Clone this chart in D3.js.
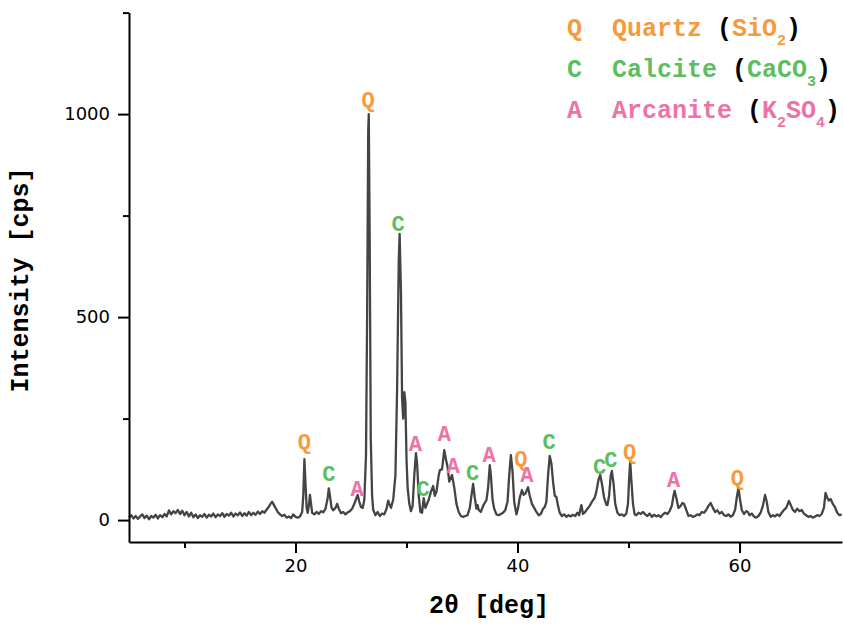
<!DOCTYPE html>
<html>
<head>
<meta charset="utf-8">
<script src="https://cdn.jsdelivr.net/npm/d3@7"></script>
<style>
  body { margin: 0; background: #fff; }
  text { white-space: pre; }
</style>
</head>
<body>
<div id="chart"></div>
<script>
// XRD pattern: [2theta, counts]
const pattern = [
  [5.0,6],[5.2,12],[5.4,4],[5.6,10],[5.8,3],[6.0,9],[6.2,14],[6.4,5],[6.6,11],[6.8,2],
  [7.0,10],[7.2,6],[7.4,13],[7.6,4],[7.8,12],[8.0,7],[8.2,15],[8.4,9],[8.6,24],[8.8,14],
  [9.0,22],[9.2,17],[9.4,25],[9.6,15],[9.8,23],[10.0,12],[10.2,20],[10.4,9],[10.6,18],[10.8,7],
  [11.0,14],[11.2,5],[11.4,12],[11.6,8],[11.8,15],[12.0,6],[12.2,13],[12.4,9],[12.6,16],[12.8,7],
  [13.0,14],[13.2,10],[13.4,17],[13.6,8],[13.8,15],[14.0,11],[14.2,18],[14.4,9],[14.6,16],[14.8,12],
  [15.0,19],[15.2,10],[15.4,17],[15.6,11],[15.8,20],[16.0,12],[16.2,18],[16.4,13],[16.6,21],[16.8,15],
  [17.0,22],[17.2,18],[17.4,26],[17.6,33],[17.8,42],[17.9,45],[18.0,40],[18.2,30],[18.4,20],[18.6,14],
  [18.8,10],[19.0,13],[19.2,6],[19.4,9],[19.6,5],[19.8,14],[20.0,8],[20.2,6],[20.4,9],[20.6,20],
  [20.7,60],[20.8,150],[20.9,90],[21.0,30],[21.1,18],[21.2,35],[21.3,62],[21.4,40],[21.5,18],[21.7,14],
  [21.9,20],[22.1,15],[22.3,22],[22.5,19],[22.7,28],[22.9,55],[23.0,78],[23.1,60],[23.25,30],[23.4,24],
  [23.6,30],[23.75,40],[23.9,28],[24.1,17],[24.3,20],[24.5,14],[24.7,19],[24.9,22],[25.1,28],[25.3,40],
  [25.5,55],[25.6,62],[25.75,45],[25.9,32],[26.05,30],[26.2,50],[26.35,160],[26.45,500],[26.55,960],[26.6,1000],
  [26.68,700],[26.78,200],[26.9,60],[27.0,25],[27.2,12],[27.4,20],[27.6,10],[27.8,16],[28.0,14],[28.2,28],
  [28.35,48],[28.45,40],[28.6,30],[28.8,50],[29.0,110],[29.15,320],[29.3,640],[29.38,705],[29.5,560],[29.6,300],
  [29.7,250],[29.8,315],[29.9,290],[30.0,150],[30.1,80],[30.25,40],[30.4,22],[30.55,35],[30.7,110],[30.85,165],
  [30.95,140],[31.1,60],[31.25,20],[31.4,18],[31.55,54],[31.7,30],[31.85,40],[32.0,50],[32.2,70],[32.4,84],
  [32.55,60],[32.7,70],[32.9,110],[33.0,123],[33.2,125],[33.4,172],[33.55,150],[33.7,130],[33.85,95],[34.0,105],
  [34.1,111],[34.3,80],[34.5,40],[34.7,20],[34.9,10],[35.1,8],[35.3,10],[35.5,12],[35.7,30],[35.85,60],
  [36.0,89],[36.15,55],[36.3,28],[36.4,37],[36.5,25],[36.7,20],[36.9,35],[37.1,45],[37.2,49],[37.35,80],
  [37.5,135],[37.6,110],[37.75,50],[37.9,28],[38.1,14],[38.3,12],[38.5,15],[38.7,18],[38.9,25],[39.1,45],
  [39.25,110],[39.4,160],[39.55,120],[39.7,45],[39.9,14],[40.05,30],[40.2,55],[40.4,74],[40.55,62],[40.7,65],
  [40.95,81],[41.1,60],[41.3,40],[41.5,30],[41.7,20],[41.9,12],[42.1,15],[42.3,28],[42.45,32],[42.6,45],
  [42.75,110],[42.9,158],[43.05,140],[43.2,95],[43.35,60],[43.5,57],[43.65,35],[43.8,18],[44.0,10],[44.2,14],
  [44.4,8],[44.6,12],[44.8,9],[45.0,13],[45.2,10],[45.4,18],[45.55,12],[45.75,37],[45.9,15],[46.1,20],
  [46.3,28],[46.5,35],[46.7,45],[46.8,49],[46.95,55],[47.1,70],[47.3,100],[47.45,111],[47.6,90],[47.8,55],
  [48.0,38],[48.1,37],[48.25,60],[48.4,110],[48.5,121],[48.65,90],[48.8,40],[49.0,18],[49.2,12],[49.4,14],
  [49.6,10],[49.8,16],[49.95,40],[50.05,100],[50.15,145],[50.25,100],[50.4,40],[50.55,14],[50.7,12],[50.9,18],
  [51.1,15],[51.3,20],[51.5,14],[51.7,10],[51.9,16],[52.1,8],[52.3,13],[52.5,9],[52.7,12],[52.9,7],
  [53.1,14],[53.3,18],[53.5,15],[53.7,22],[53.9,35],[54.05,60],[54.15,72],[54.3,55],[54.5,30],[54.7,35],
  [54.85,42],[55.0,40],[55.2,25],[55.4,10],[55.6,12],[55.8,8],[56.0,10],[56.2,14],[56.4,12],[56.6,20],
  [56.8,18],[57.0,25],[57.2,35],[57.4,42],[57.6,30],[57.8,20],[58.0,24],[58.2,16],[58.4,20],[58.6,12],
  [58.8,10],[59.0,14],[59.2,8],[59.4,12],[59.6,25],[59.75,55],[59.9,79],[60.05,50],[60.2,25],[60.4,15],
  [60.6,22],[60.75,20],[60.9,12],[61.1,16],[61.3,9],[61.5,6],[61.7,10],[61.9,18],[62.1,35],[62.3,62],
  [62.45,45],[62.6,20],[62.8,8],[63.0,12],[63.2,9],[63.4,14],[63.6,10],[63.8,18],[64.0,25],[64.2,30],
  [64.45,47],[64.6,38],[64.8,25],[65.0,20],[65.2,28],[65.4,22],[65.6,25],[65.8,16],[66.0,12],[66.2,8],
  [66.4,10],[66.6,6],[66.8,9],[67.0,12],[67.2,10],[67.4,15],[67.6,30],[67.75,67],[67.9,55],[68.05,48],
  [68.2,52],[68.4,40],[68.6,32],[68.8,18],[69.0,12],[69.2,14]
];

// peak markers
const peakAngle = [20.8, 23.0, 25.55, 26.55, 29.25, 30.8, 31.5, 33.4, 34.2, 35.95,
                   37.45, 40.3, 40.85, 42.85, 47.4, 48.4, 50.1, 54.05, 59.8];
const peakPhase = ["Q","C","A","Q","C","A","C","A","A","C",
                   "A","Q","A","C","C","C","Q","A","Q"];
const peakLevel = [195, 116, 79, 1037, 731, 190, 79, 214, 135, 118,
                   163, 153, 113, 195, 133, 150, 170, 101, 106];

// legend
const phaseKeys = ["Q", "C", "A"];
const phaseNames = ["Quartz", "Calcite", "Arcanite"];
const phaseFormula = [
  [["Si", false], ["O", false], ["2", true]],
  [["CaCO", false], ["3", true]],
  [["K", false], ["2", true], ["SO", false], ["4", true]]
];
const phaseColors = {Q: "#F59B3E", C: "#5DBD62", A: "#EE72A8"};

const xTicksMajor = [20, 40, 60];
const xTicksMinor = [10, 30, 50];
const yTicksMajor = [0, 500, 1000];
const yTicksMinor = [250, 750, 1250];

const width = 843, height = 625;
const monoFont = "'Liberation Mono', 'DejaVu Sans Mono', monospace";

const svg = d3.select("#chart").append("svg")
  .attr("width", width)
  .attr("height", height)
  .style("background", "#fff");

const x = d3.scaleLinear().domain([5, 69.23]).range([129, 842]);
const y = d3.scaleLinear().domain([-54, 1250]).range([542, 12.6]);

// the pattern line
const line = d3.line()
  .x(d => x(d[0]))
  .y(d => y(d[1]));

svg.append("path")
  .datum(pattern)
  .attr("fill", "none")
  .attr("stroke", "#444")
  .attr("stroke-width", 2.3)
  .attr("stroke-linejoin", "round")
  .attr("d", line);

// axes
svg.append("g")
  .attr("transform", `translate(0,${y.range()[0]})`)
  .call(d3.axisBottom(x).tickValues(xTicksMajor).tickSize(11).tickSizeOuter(0).tickPadding(6));
svg.append("g")
  .attr("transform", `translate(0,${y.range()[0]})`)
  .call(d3.axisBottom(x).tickValues(xTicksMinor).tickSize(6).tickSizeOuter(0).tickFormat(""))
  .select(".domain").remove();

svg.append("g")
  .attr("transform", `translate(${x.range()[0]},0)`)
  .call(d3.axisLeft(y).tickValues(yTicksMajor).tickFormat(d3.format("d"))
    .tickSize(11).tickSizeOuter(0).tickPadding(8));
svg.append("g")
  .attr("transform", `translate(${x.range()[0]},0)`)
  .call(d3.axisLeft(y).tickValues(yTicksMinor).tickSize(6).tickSizeOuter(0).tickFormat(""))
  .select(".domain").remove();

svg.selectAll(".domain, .tick line")
  .attr("stroke", "#000")
  .attr("stroke-width", 2);
svg.selectAll(".tick text")
  .attr("fill", "#000")
  .style("font-family", "'DejaVu Sans', sans-serif")
  .style("font-size", "18px");

// axis titles
svg.append("text")
  .attr("x", 489)
  .attr("y", 613)
  .attr("text-anchor", "middle")
  .style("font-family", monoFont)
  .style("font-weight", "bold")
  .style("font-size", "25px")
  .text("2θ [deg]");

svg.append("text")
  .attr("transform", "translate(28,280) rotate(-90)")
  .attr("text-anchor", "middle")
  .style("font-family", monoFont)
  .style("font-weight", "bold")
  .style("font-size", "25px")
  .text("Intensity [cps]");

// peak letters
svg.selectAll(".peak")
  .data(peakAngle)
  .enter().append("text")
  .attr("class", "peak")
  .attr("x", d => x(d))
  .attr("y", (d, i) => y(peakLevel[i]))
  .attr("dy", "0.36em")
  .attr("text-anchor", "middle")
  .attr("fill", (d, i) => phaseColors[peakPhase[i]])
  .style("font-family", monoFont)
  .style("font-weight", "bold")
  .style("font-size", "22px")
  .text((d, i) => peakPhase[i]);

// legend
const legend = svg.append("g").attr("transform", "translate(567,0)");
phaseKeys.forEach((k, i) => {
  const col = phaseColors[k];
  const t = legend.append("text")
    .attr("x", 0)
    .attr("y", 36 + i * 41)
    .style("font-family", monoFont)
    .style("font-weight", "bold")
    .style("font-size", "25px");
  t.append("tspan").attr("fill", col).text(k + "  " + phaseNames[i] + " ");
  t.append("tspan").attr("fill", "#000").text("(");
  let down = false;
  phaseFormula[i].forEach(p => {
    const s = t.append("tspan").attr("fill", col).text(p[0]);
    if (p[1] && !down) { s.attr("dy", 9).style("font-size", "15px"); down = true; }
    else if (p[1]) { s.style("font-size", "15px"); }
    else if (down) { s.attr("dy", -9); down = false; }
  });
  const close = t.append("tspan").attr("fill", "#000").text(")");
  if (down) close.attr("dy", -9);
});
</script>
</body>
</html>
